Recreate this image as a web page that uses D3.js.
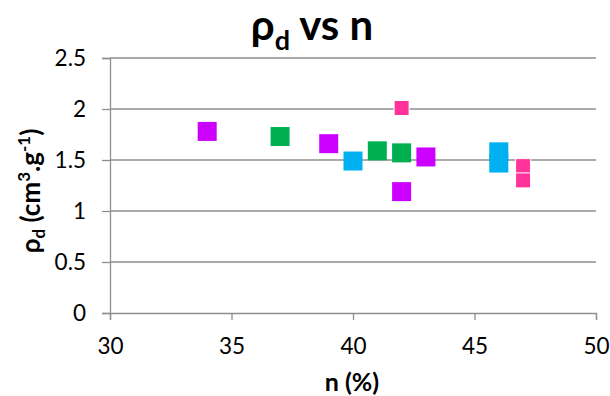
<!DOCTYPE html>
<html><head><meta charset="utf-8">
<script src="https://cdn.jsdelivr.net/npm/d3@7"></script>
<style>body{margin:0;background:#fff;} svg{display:block;font-family:Lato,"Open Sans","Liberation Sans",sans-serif;}</style>
</head><body>
<svg id="c" width="610" height="396"></svg>
<script>
const xTicks = [30, 35, 40, 45, 50];
const yTicks = [0, 0.5, 1, 1.5, 2, 2.5];
const purpleN = [34, 39, 43, 42];
const purpleRho = [1.78, 1.66, 1.53, 1.19];
const greenN = [37, 41, 42];
const greenRho = [1.73, 1.59, 1.57];
const blueN = [40, 46, 46];
const blueRho = [1.49, 1.58, 1.47];
const pinkN = [42, 47, 47];
const pinkRho = [2.01, 1.44, 1.30];

const series = [
  {n: purpleN, rho: purpleRho, color: "#CC00FF", size: 19, stroke: "none"},
  {n: greenN, rho: greenRho, color: "#00B050", size: 19, stroke: "none"},
  {n: blueN, rho: blueRho, color: "#00B0F0", size: 19, stroke: "none"},
  {n: pinkN, rho: pinkRho, color: "#FF3399", size: 15, stroke: "#fff"}
];

const FONT = 'Lato,"Open Sans","Liberation Sans",sans-serif';
const svg = d3.select("#c");
const L = 110, R = 596, T = 58, B = 313;
const x = d3.scaleLinear().domain([30, 50]).range([L, R]);
const y = d3.scaleLinear().domain([0, 2.5]).range([B, T]);

// gridlines
svg.append("g").selectAll("line").data(yTicks.filter(d => d > 0)).join("line")
  .attr("x1", L).attr("x2", R).attr("y1", d => y(d)).attr("y2", d => y(d))
  .attr("stroke", "#8e8e8e").attr("stroke-width", 1.3);

// x axis
const xa = svg.append("g").attr("transform", `translate(0,${B})`)
  .call(d3.axisBottom(x).tickValues(xTicks).tickSize(7).tickPadding(18).tickFormat(d3.format("d")));
// y axis
const ya = svg.append("g").attr("transform", `translate(${L},0)`)
  .call(d3.axisLeft(y).tickValues(yTicks).tickSize(8).tickPadding(16).tickFormat(d => d));
[xa, ya].forEach(a => {
  a.select(".domain").attr("stroke", "#8e8e8e").attr("stroke-width", 1.3);
  a.selectAll(".tick line").attr("stroke", "#8e8e8e").attr("stroke-width", 1.3);
  a.selectAll("text").attr("font-size", 22.5).attr("fill", "#000").attr("font-family", FONT);
});

// points
series.forEach(s => {
  svg.append("g").selectAll("rect").data(s.n.map((v, i) => [v, s.rho[i]])).join("rect")
    .attr("x", d => x(d[0]) - s.size / 2).attr("y", d => y(d[1]) - s.size / 2)
    .attr("width", s.size).attr("height", s.size)
    .attr("fill", s.color).attr("stroke", s.stroke).attr("stroke-width", s.stroke === "none" ? 0 : 1);
});

// title
const t = svg.append("text").attr("x", 312).attr("y", 40).attr("text-anchor", "middle")
  .attr("font-size", 42).attr("font-weight", "bold");
t.append("tspan").text("ρ");
t.append("tspan").text("d").attr("font-size", 27).attr("dy", 10);
t.append("tspan").text(" vs n").attr("dy", -10);

// x label
svg.append("text").attr("x", 352).attr("y", 391).attr("text-anchor", "middle")
  .attr("font-size", 25).attr("font-weight", "bold").text("n (%)");

// y label
const yl = svg.append("text").attr("transform", "translate(40,191) rotate(-90)")
  .attr("text-anchor", "middle").attr("font-size", 26).attr("font-weight", "bold");
yl.append("tspan").text("ρ");
yl.append("tspan").text("d").attr("font-size", 17).attr("dy", 5);
yl.append("tspan").text(" (cm").attr("dy", -5);
yl.append("tspan").text("3").attr("font-size", 17).attr("dy", -10);
yl.append("tspan").text(".g").attr("dy", 10);
yl.append("tspan").text("-1").attr("font-size", 17).attr("dy", -10);
yl.append("tspan").text(")").attr("dy", 10);
</script>
</body></html>
